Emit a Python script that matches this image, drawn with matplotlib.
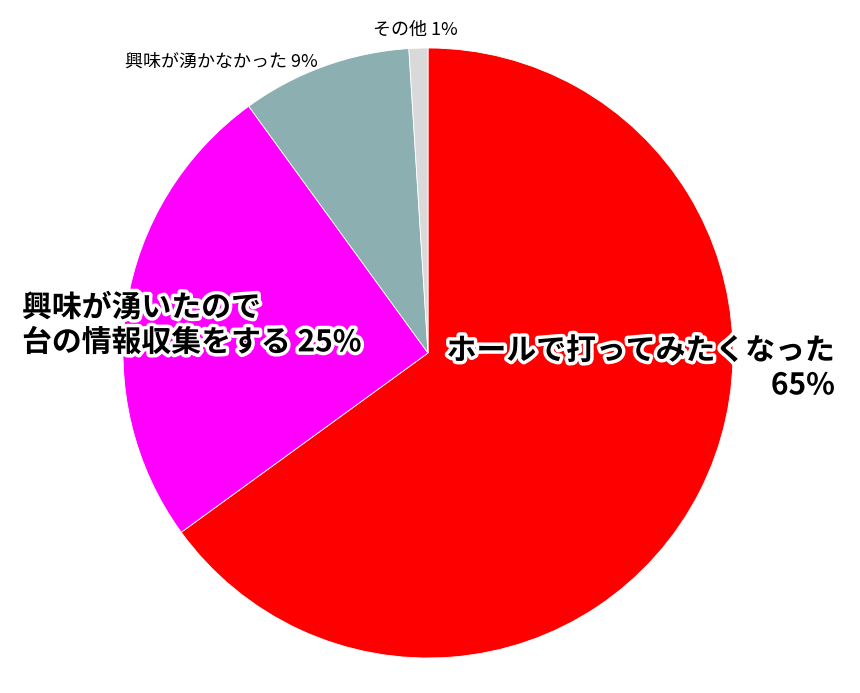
import matplotlib.pyplot as plt
import matplotlib.patheffects as pe

plt.rcParams['font.family'] = ['Noto Sans CJK JP', 'DejaVu Sans']

# 回答の割合
labels = ['ホールで打ってみたくなった', '興味が湧いたので台の情報収集をする', '興味が湧かなかった', 'その他']
values = [65, 25, 9, 1]
colors = ['#FF0000', '#FF00FF', '#8CB0B2', '#D9D9D9']

fig = plt.figure(figsize=(8.6, 6.93), dpi=100)
ax = fig.add_axes([0, 0, 1, 1])
ax.set_xlim(0, 860)
ax.set_ylim(0, 693)
ax.set_aspect('equal')
ax.axis('off')

ax.pie(values, colors=colors, startangle=90, counterclock=False,
       center=(428, 340), radius=305,
       wedgeprops={'edgecolor': 'white', 'linewidth': 0.6})
ax.set_xlim(0, 860)
ax.set_ylim(0, 693)

outline = [pe.withStroke(linewidth=5, foreground='white')]

ax.text(835, 325, labels[0] + '\n' + f'{values[0]}%', ha='right', va='center',
        fontsize=21.5, fontweight='bold', linespacing=1.2, path_effects=outline)
ax.text(22, 368, '興味が湧いたので\n台の情報収集をする ' + f'{values[1]}%', ha='left', va='center',
        fontsize=21.5, fontweight='bold', linespacing=1.2, path_effects=outline)
ax.text(125, 631, labels[2] + f' {values[2]}%', ha='left', va='center', fontsize=13)
ax.text(373, 663, labels[3] + f' {values[3]}%', ha='left', va='center', fontsize=13)

fig.savefig('out.png', dpi=100)
